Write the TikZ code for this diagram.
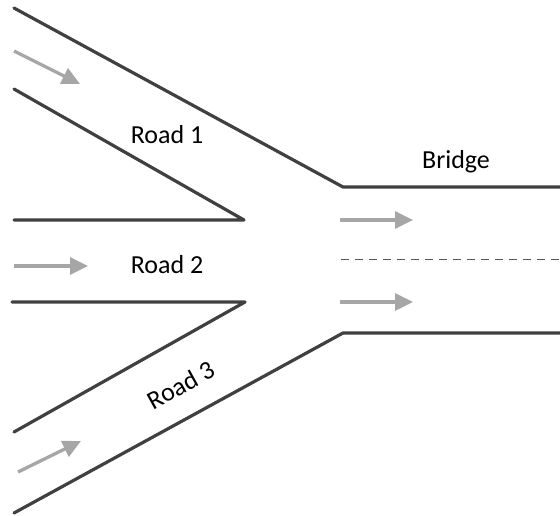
\documentclass[tikz,border=0pt]{standalone}
\usepackage{fontspec}
\setmainfont{Carlito}
\usetikzlibrary{arrows.meta}
\definecolor{roadline}{HTML}{404040}
\definecolor{flow}{HTML}{A6A6A6}
\definecolor{lane}{HTML}{595959}
\tikzset{
  edge/.style={draw=roadline, line width=3.2pt, line cap=round, line join=round},
  flowarrow/.style={draw=flow, line width=3.3pt, -{Triangle[length=18pt,width=17pt]}},
  lanemark/.style={draw=lane, line width=0.9pt, dash pattern=on 8pt off 6pt},
  lbl/.style={font=\fontsize{26}{30}\selectfont, inner sep=0pt}
}
\begin{document}
\begin{tikzpicture}[x=1pt,y=-1pt]
\useasboundingbox (0,0) rectangle (560,515);
% Road 1
\draw[edge] (14,8) -- (343,187) -- (561,187);
\draw[edge] (14,89) -- (244,220) -- (14,220);
% Road 3
\draw[edge] (12,302) -- (245,302) -- (14,432);
\draw[edge] (14,513) -- (343,333) -- (561,333);
% lane divider
\coordinate (ds) at (341,259);
\coordinate (de) at (560,259);
\draw[lanemark] (ds) -- (de);
% arrows
\coordinate (a1s) at (14,51);  \coordinate (a1e) at (80,84);
\coordinate (a2s) at (14,266); \coordinate (a2e) at (88,266);
\coordinate (a3s) at (18,472); \coordinate (a3e) at (81,441);
\coordinate (b1s) at (340,220); \coordinate (b1e) at (413,220);
\coordinate (b2s) at (340,302); \coordinate (b2e) at (413,302);
\draw[flowarrow] (a1s) -- (a1e);
\draw[flowarrow] (a2s) -- (a2e);
\draw[flowarrow] (a3s) -- (a3e);
\draw[flowarrow] (b1s) -- (b1e);
\draw[flowarrow] (b2s) -- (b2e);
% labels
\node[lbl, anchor=base] (r1) at (167,143) {Road 1};
\node[lbl, anchor=base] (r2) at (167,273) {Road 2};
\node[lbl, rotate=29] (r3) at (181,385) {Road 3};
\node[lbl, anchor=base] (br) at (456,168) {Bridge};
\end{tikzpicture}
\end{document}
